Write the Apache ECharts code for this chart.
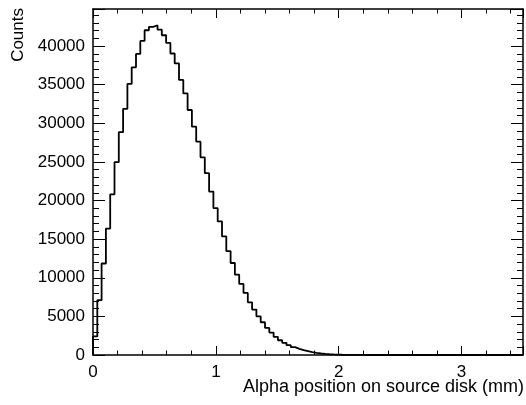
<!DOCTYPE html>
<html>
<head>
<meta charset="utf-8">
<script src="https://cdn.jsdelivr.net/npm/echarts@6/dist/echarts.min.js"></script>
<style>
html,body{margin:0;padding:0;background:#fff;}
#chart{width:526px;height:405px;}
</style>
</head>
<body>
<div id="chart"></div>
<script>
// Histogram: 100 bins from 0 to 3.5 mm
const xMin = 0;
const xMax = 3.5;
const binWidth = 0.035;
const counts = [
  2400, 7100, 11850, 16370, 20800, 24970, 28850, 31870, 35100, 37250,
  38980, 40670, 42050, 42480, 42700, 42140, 41400, 40410, 39040, 37750,
  35620, 33870, 31720, 29560, 27620, 25600, 23540, 21160, 19020, 17290,
  15350, 13450, 11910, 10400, 9200, 8040, 6820, 5880, 5010, 4240,
  3510, 2900, 2350, 1910, 1580, 1270, 1010, 800, 620, 490,
  360, 270, 200, 140, 100, 70, 50, 35, 25, 18,
  12, 8, 5, 3, 2, 1, 0, 0, 0, 0,
  0, 0, 0, 0, 0, 0, 0, 0, 0, 0,
  0, 0, 0, 0, 0, 0, 0, 0, 0, 0,
  0, 0, 0, 0, 0, 0, 0, 0, 0, 0
];
const yMin = 0;
const yMax = 44800;
const yInterval = 5000;
const xInterval = 1;
const xTitle = 'Alpha position on source disk (mm)';
const yTitle = 'Counts';

// step data: left edges of bins, plus closing point
const stepData = [[xMin, 0]];
counts.forEach((c, i) => stepData.push([+(xMin + i * binWidth).toFixed(4), c]));
stepData.push([xMax, counts[counts.length - 1]]);

const FONT = 'Liberation Sans, Arial, Helvetica, sans-serif';
const lineStyle = { color: '#000', width: 1.5 };

const chart = echarts.init(document.getElementById('chart'), null, { renderer: 'canvas' });
chart.setOption({
  animation: false,
  backgroundColor: '#fff',
  grid: { left: 93, right: 1, top: 9, bottom: 50, containLabel: false },
  xAxis: [
    {
      type: 'value', min: xMin, max: xMax, interval: xInterval, position: 'bottom',
      axisLine: { show: true, onZero: false, lineStyle: lineStyle },
      axisTick: { show: true, inside: true, length: 9, lineStyle: { color: '#000', width: 1 } },
      minorTick: { show: true, splitNumber: 5, length: 4.5, lineStyle: { color: '#000', width: 1 } },
      splitLine: { show: false },
      axisLabel: {
        show: true, margin: 9, color: '#000', fontFamily: FONT, fontSize: 17,
        formatter: v => (Math.abs(v - Math.round(v)) < 1e-6 && v < xMax) ? String(Math.round(v)) : ''
      }
    },
    {
      type: 'value', min: xMin, max: xMax, interval: xInterval, position: 'top',
      axisLine: { show: true, onZero: false, lineStyle: lineStyle },
      axisTick: { show: true, inside: true, length: 9, lineStyle: { color: '#000', width: 1 } },
      minorTick: { show: true, splitNumber: 5, length: 4.5, lineStyle: { color: '#000', width: 1 } },
      splitLine: { show: false },
      axisLabel: { show: false }
    }
  ],
  yAxis: [
    {
      type: 'value', min: yMin, max: yMax, interval: yInterval, position: 'left',
      axisLine: { show: true, onZero: false, lineStyle: lineStyle },
      axisTick: { show: true, inside: true, length: 12, lineStyle: { color: '#000', width: 1 } },
      minorTick: { show: true, splitNumber: 5, length: 6, lineStyle: { color: '#000', width: 1 } },
      splitLine: { show: false },
      axisLabel: {
        show: true, margin: 8, color: '#000', fontFamily: FONT, fontSize: 17,
        formatter: v => (v % yInterval === 0) ? String(v) : ''
      }
    },
    {
      type: 'value', min: yMin, max: yMax, interval: yInterval, position: 'right',
      axisLine: { show: true, onZero: false, lineStyle: lineStyle },
      axisTick: { show: true, inside: true, length: 12, lineStyle: { color: '#000', width: 1 } },
      minorTick: { show: true, splitNumber: 5, length: 6, lineStyle: { color: '#000', width: 1 } },
      splitLine: { show: false },
      axisLabel: { show: false }
    }
  ],
  series: [
    {
      type: 'line',
      xAxisIndex: 0, yAxisIndex: 0,
      step: 'end',
      data: stepData,
      showSymbol: false,
      symbol: 'none',
      lineStyle: { color: '#000', width: 1.8 },
      clip: true,
      z: 3
    }
  ],
  graphic: [
    {
      type: 'text', right: 2, top: 378,
      style: { text: xTitle, font: '18px ' + FONT, fill: '#000' }
    },
    {
      type: 'text', x: 18.5, y: 8, rotation: Math.PI / 2,
      style: { text: yTitle, font: '17px ' + FONT, fill: '#000', align: 'right', verticalAlign: 'middle' }
    }
  ]
});
</script>
</body>
</html>
